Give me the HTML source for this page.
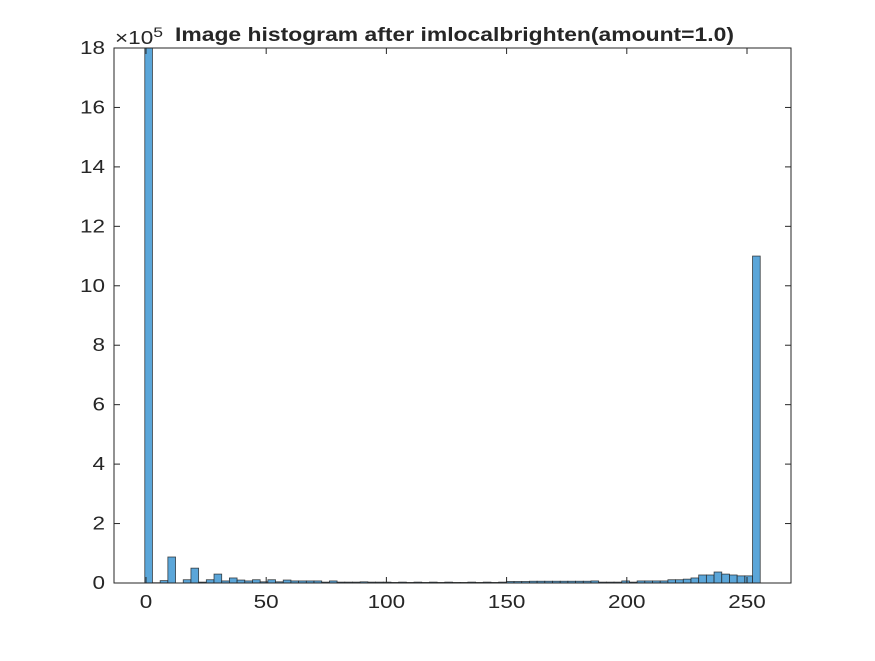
<!DOCTYPE html>
<html><head><meta charset="utf-8"><style>
body{margin:0;background:#fff}
svg text{font-family:"Liberation Sans",Arial,sans-serif;fill:#262626}
</style></head><body>
<svg id="chart" width="875" height="656" viewBox="0 0 875 656" xmlns="http://www.w3.org/2000/svg">
<rect width="875" height="656" fill="#fff"/>
<g id="bars"></g>
<g id="axes"></g>
</svg>
<script>
const binStart = -0.5;
const binWidth = 3.2;
const counts = [18.5,0.01,0.08,0.875,0,0.11,0.5,0.03,0.11,0.3,0.07,0.17,0.1,0.07,0.11,0.04,0.11,0.04,0.1,0.07,
0.07,0.07,0.07,0.03,0.07,0.03,0.03,0.03,0.04,0.03,0.03,0.03,0.02,0.03,0.02,0.03,0.02,0.03,0.02,0.03,
0.02,0.02,0.03,0.02,0.03,0.02,0.03,0.05,0.05,0.05,0.06,0.06,0.06,0.06,0.06,0.06,0.06,0.06,0.07,0.03,
0.03,0.03,0.07,0.03,0.07,0.07,0.07,0.07,0.11,0.11,0.13,0.17,0.27,0.27,0.37,0.30,0.27,0.24,0.24,11.0];
const xTicks = [0,50,100,150,200,250];
const yTicks = [0,2,4,6,8,10,12,14,16,18];
const L=114,R=791,T=48,B=583;
const xMin=-13.3,xMax=268.3,yMax=18;
const sx=v=>L+(v-xMin)/(xMax-xMin)*(R-L);
const sy=v=>B-Math.min(v,yMax)/yMax*(B-T);
const NS="http://www.w3.org/2000/svg";
function mk(tag,attrs,parent){const e=document.createElementNS(NS,tag);for(const k in attrs)e.setAttribute(k,attrs[k]);parent.appendChild(e);return e;}
const bars=document.getElementById('bars');
counts.forEach((c,i)=>{
  const x0=sx(binStart+i*binWidth),x1=sx(binStart+(i+1)*binWidth);
  const y=sy(c);
  const r=mk('rect',{x:x0,y:y,width:x1-x0,height:B-y,fill:'#5BA6D9',stroke:'#1a1a1a','stroke-width':0.8,'stroke-opacity':0.8},bars);
  
  
});
const ax=document.getElementById('axes');
const box=mk('rect',{x:L,y:T,width:R-L,height:B-T,fill:'none',stroke:'#262626','stroke-width':1},ax);


const dw=18*0.556*1.25;
xTicks.forEach(t=>{
  const x=sx(t);
  mk('line',{x1:x,x2:x,y1:B,y2:B-6,stroke:'#262626'},ax);
  mk('line',{x1:x,x2:x,y1:T,y2:T+6,stroke:'#262626'},ax);
  const w=String(t).length*dw;
  const tx=mk('text',{x:x-w/2,y:B+25,'font-size':18,textLength:w,lengthAdjust:'spacingAndGlyphs'},ax);
  tx.textContent=t;
  
  
});
yTicks.forEach(t=>{
  const y=sy(t);
  mk('line',{x1:L,x2:L+6,y1:y,y2:y,stroke:'#262626'},ax);
  mk('line',{x1:R,x2:R-6,y1:y,y2:y,stroke:'#262626'},ax);
  const w=String(t).length*dw;
  const tx=mk('text',{x:L-9-w,y:y+6,'font-size':18,textLength:w,lengthAdjust:'spacingAndGlyphs'},ax);
  tx.textContent=t;
  
  
});
const ex=mk('text',{x:115,y:44,'font-size':18,textLength:48,lengthAdjust:'spacingAndGlyphs'},ax);
ex.innerHTML='×10<tspan dy="-7" font-size="14">5</tspan>';


const title=mk('text',{x:175,y:41,'font-size':19,'font-weight':'bold',textLength:559,lengthAdjust:'spacingAndGlyphs'},ax);
title.textContent='Image histogram after imlocalbrighten(amount=1.0)';


</script>
</body></html>
